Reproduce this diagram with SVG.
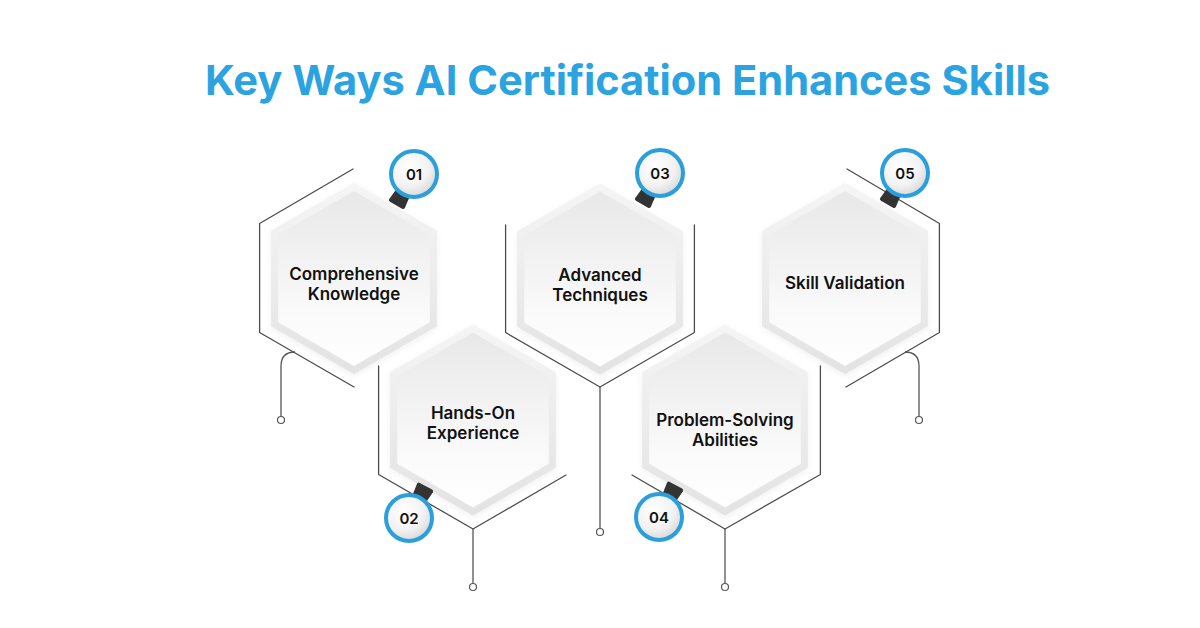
<svg xmlns="http://www.w3.org/2000/svg" width="1200" height="628" viewBox="0 0 1200 628">
  <defs>
    <linearGradient id="gBand" x1="0" y1="0" x2="0" y2="1">
      <stop offset="0" stop-color="#f5f5f5"/>
      <stop offset="1" stop-color="#e3e3e3"/>
    </linearGradient>
    <linearGradient id="gFill" x1="0" y1="0" x2="0" y2="1">
      <stop offset="0" stop-color="#e8e8e8"/>
      <stop offset="0.7" stop-color="#fafafa"/>
      <stop offset="1" stop-color="#ffffff"/>
    </linearGradient>
    <radialGradient id="gBadge" cx="0.4" cy="0.35" r="0.7">
      <stop offset="0" stop-color="#ffffff"/>
      <stop offset="0.6" stop-color="#f2f2f2"/>
      <stop offset="1" stop-color="#d5d5d5"/>
    </radialGradient>
    <filter id="soft" x="-20%" y="-20%" width="140%" height="140%">
      <feGaussianBlur in="SourceAlpha" stdDeviation="3"/>
      <feOffset dy="2"/>
      <feComponentTransfer><feFuncA type="linear" slope="0.06"/></feComponentTransfer>
      <feMerge><feMergeNode/><feMergeNode in="SourceGraphic"/></feMerge>
    </filter>
    <polygon id="hexOut" points="0,-94 81.4,-47 81.4,47 0,94 -81.4,47 -81.4,-47"/>
    <polygon id="hexIn" points="0,-87.5 75.8,-43.75 75.8,43.75 0,87.5 -75.8,43.75 -75.8,-43.75"/>
    <path id="tab" d="M-7,16 L7,16 L9,34 Q9,36 7,36 L-7,36 Q-9,36 -9,34 Z"/>
  </defs>
  <style>
    .frame { fill: none; stroke: #4d4d4d; stroke-width: 1.3; stroke-linejoin: round; stroke-linecap: round; }
    .band { fill: url(#gBand); stroke: url(#gBand); stroke-width: 3; stroke-linejoin: round; }
    .fill { fill: url(#gFill); }
    .label { font-family: Inter, "Liberation Sans", sans-serif; font-weight: 600; font-size: 17px; fill: #111111; text-anchor: middle; }
    .num { font-family: Inter, "Liberation Sans", sans-serif; font-weight: 600; font-size: 15px; fill: #111111; text-anchor: middle; }
    .ring { fill: url(#gBadge); stroke: #2b9fdb; stroke-width: 4; }
    .tabc { fill: #333333; }
    .stem { fill: none; stroke: #555555; stroke-width: 1.3; }
    .dot { fill: #ffffff; stroke: #555555; stroke-width: 1.2; }
    .title { font-family: Inter, "Liberation Sans", sans-serif; font-weight: 700; font-size: 41px; fill: #2ba3e0; }
  </style>

  <rect width="1200" height="628" fill="#ffffff"/>

  <text class="title" x="205" y="95" textLength="845" lengthAdjust="spacingAndGlyphs">Key Ways AI Certification Enhances Skills</text>

  <g id="connectors">
    <path class="stem" d="M295,352 Q281,352 281,366 L281,416.5"/>
    <circle class="dot" cx="281" cy="420" r="3.5"/>
    <path class="stem" d="M473,529 L473,583.5"/>
    <circle class="dot" cx="473" cy="587" r="3.5"/>
    <path class="stem" d="M600,387 L600,528.5"/>
    <circle class="dot" cx="600" cy="532" r="3.5"/>
    <path class="stem" d="M725,529 L725,583.5"/>
    <circle class="dot" cx="725" cy="587" r="3.5"/>
    <path class="stem" d="M905,352 Q919,352 919,366 L919,416.5"/>
    <circle class="dot" cx="919" cy="420" r="3.5"/>
  </g>

  <g id="node-1">
    <path class="frame" d="M353,169 L259.6,223.5 L259.6,332.5 L354,387"/>
    <g transform="translate(354,278.5)" filter="url(#soft)">
      <use href="#hexOut" class="band"/>
      <use href="#hexIn" class="fill"/>
    </g>
    <text class="label" x="354" y="280">Comprehensive</text>
    <text class="label" x="354" y="300">Knowledge</text>
    <g transform="translate(414,174)">
      <use href="#tab" class="tabc" transform="rotate(30)"/>
      <circle class="ring" r="23"/>
      <text class="num" y="5.5">01</text>
    </g>
  </g>

  <g id="node-2">
    <path class="frame" d="M378.6,366 L378.6,474.5 L473,529 L566,475"/>
    <g transform="translate(473,420)" filter="url(#soft)">
      <use href="#hexOut" class="band"/>
      <use href="#hexIn" class="fill"/>
    </g>
    <text class="label" x="473" y="419">Hands-On</text>
    <text class="label" x="473" y="439">Experience</text>
    <g transform="translate(409,518)">
      <use href="#tab" class="tabc" transform="rotate(208)"/>
      <circle class="ring" r="23"/>
      <text class="num" y="5.5">02</text>
    </g>
  </g>

  <g id="node-3">
    <path class="frame" d="M505.6,225 L505.6,332.5 L600,387 L694.4,332.5 L694.4,225"/>
    <g transform="translate(600,279)" filter="url(#soft)">
      <use href="#hexOut" class="band"/>
      <use href="#hexIn" class="fill"/>
    </g>
    <text class="label" x="600" y="281">Advanced</text>
    <text class="label" x="600" y="301">Techniques</text>
    <g transform="translate(660,173)">
      <use href="#tab" class="tabc" transform="rotate(30)"/>
      <circle class="ring" r="23"/>
      <text class="num" y="5.5">03</text>
    </g>
  </g>

  <g id="node-4">
    <path class="frame" d="M820.4,366 L820.4,474.5 L725,529 L632,475"/>
    <g transform="translate(725,420)" filter="url(#soft)">
      <use href="#hexOut" class="band"/>
      <use href="#hexIn" class="fill"/>
    </g>
    <text class="label" x="725" y="426">Problem-Solving</text>
    <text class="label" x="725" y="446">Abilities</text>
    <g transform="translate(659,517)">
      <use href="#tab" class="tabc" transform="rotate(208)"/>
      <circle class="ring" r="23"/>
      <text class="num" y="5.5">04</text>
    </g>
  </g>

  <g id="node-5">
    <path class="frame" d="M847,169 L939.4,223.5 L939.4,332.5 L846,387"/>
    <g transform="translate(845,278.5)" filter="url(#soft)">
      <use href="#hexOut" class="band"/>
      <use href="#hexIn" class="fill"/>
    </g>
    <text class="label" x="845" y="289">Skill Validation</text>
    <g transform="translate(905,173)">
      <use href="#tab" class="tabc" transform="rotate(30)"/>
      <circle class="ring" r="23"/>
      <text class="num" y="5.5">05</text>
    </g>
  </g>
</svg>
